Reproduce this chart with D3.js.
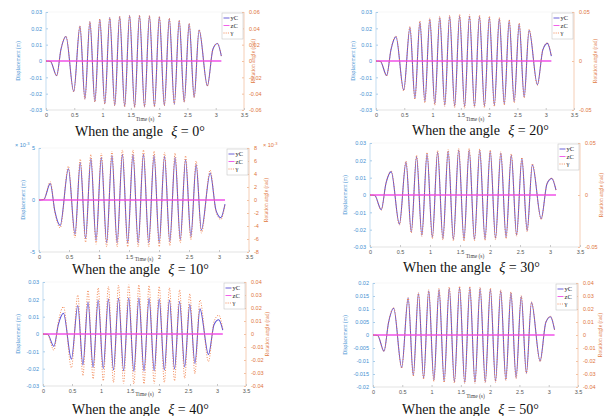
<!DOCTYPE html>
<html><head><meta charset="utf-8">
<script src="https://cdn.jsdelivr.net/npm/d3@7"></script>
<style>body{margin:0;background:#fff}svg{display:block}</style>
</head><body><svg id="c" width="614" height="416"></svg>
<script>
// ---- data ----
const time = [0, 0.08, 0.188, 0.265, 0.353, 0.49, 0.6, 0.688, 0.776, 0.864, 0.951, 1.039, 1.127, 1.215, 1.302, 1.39, 1.478, 1.566, 1.653, 1.741, 1.829, 1.917, 2.004, 2.092, 2.18, 2.268, 2.355, 2.443, 2.531, 2.619, 2.706, 2.853, 2.95, 3.03, 3.1];

const yC_0  = [0, -0.0003, -0.009, 0.0072, 0.015, -0.0187, 0.0213, -0.0232, 0.024, -0.0249, 0.0256, -0.0262, 0.0266, -0.0272, 0.0272, -0.0278, 0.0278, -0.0282, 0.0278, -0.028, 0.0276, -0.0278, 0.027, -0.0272, 0.026, -0.0264, 0.0248, -0.025, 0.0228, -0.0222, 0.019, -0.0152, 0.0072, 0.0107, 0.003];
const gamma_0 = [0, -0.0006, -0.0182, 0.0145, 0.0303, -0.0378, 0.043, -0.0469, 0.0485, -0.0503, 0.0517, -0.0529, 0.0537, -0.0549, 0.0549, -0.0562, 0.0562, -0.057, 0.0562, -0.0566, 0.0558, -0.0562, 0.0545, -0.0549, 0.0525, -0.0533, 0.0501, -0.0505, 0.0461, -0.0448, 0.0384, -0.0307, 0.0145, 0.0216, 0.0061];

const yC_20 = [0, -0.0003, -0.0089, 0.007, 0.0149, -0.0178, 0.0205, -0.0228, 0.0238, -0.0248, 0.0256, -0.0262, 0.0266, -0.027, 0.0272, -0.0276, 0.0276, -0.028, 0.0276, -0.0278, 0.0272, -0.0276, 0.0266, -0.027, 0.0258, -0.0262, 0.0246, -0.0248, 0.0226, -0.022, 0.0188, -0.0145, 0.007, 0.0108, 0.003];
const gamma_20 = [0, -0.0005, -0.0153, 0.012, 0.0256, -0.0306, 0.0353, -0.0392, 0.0409, -0.0427, 0.044, -0.0451, 0.0458, -0.0464, 0.0468, -0.0475, 0.0475, -0.0482, 0.0475, -0.0478, 0.0468, -0.0475, 0.0458, -0.0464, 0.0444, -0.0451, 0.0423, -0.0427, 0.0389, -0.0378, 0.0323, -0.0249, 0.012, 0.0186, 0.0052];

const yC_10 = [0, 0.00005, 0.00158, -0.0011, -0.00245, 0.003, -0.0033, 0.0036, -0.0037, 0.004, -0.0039, 0.0041, -0.0041, 0.0043, -0.0041, 0.0044, -0.0041, 0.0044, -0.0041, 0.0044, -0.0041, 0.0043, -0.0041, 0.0042, -0.004, 0.0041, -0.0038, 0.0039, -0.0035, 0.0034, -0.0029, 0.0026, -0.001, -0.0017, -0.0004];
const gamma_10 = [0, 0.0001, 0.0028, -0.0019, -0.0043, 0.0052, -0.0058, 0.0063, -0.0065, 0.007, -0.0068, 0.0072, -0.0072, 0.0075, -0.0072, 0.0077, -0.0072, 0.0077, -0.0072, 0.0077, -0.0072, 0.0075, -0.0072, 0.0073, -0.007, 0.0072, -0.0066, 0.0068, -0.0061, 0.006, -0.0051, 0.0046, -0.0018, -0.003, -0.0007];

const yC_30 = [0, -0.0003, -0.0085, 0.0065, 0.0135, -0.0168, 0.019, -0.0213, 0.0222, -0.0232, 0.0238, -0.0244, 0.0248, -0.0252, 0.0254, -0.0256, 0.026, -0.0258, 0.026, -0.0256, 0.0258, -0.0254, 0.0252, -0.025, 0.0242, -0.0244, 0.023, -0.023, 0.021, -0.0205, 0.0175, -0.0137, 0.0065, 0.0095, 0.0028];
const gamma_30 = [0, -0.0005, -0.0146, 0.0112, 0.0232, -0.0289, 0.0327, -0.0366, 0.0382, -0.0399, 0.0409, -0.042, 0.0427, -0.0433, 0.0437, -0.044, 0.0447, -0.0444, 0.0447, -0.044, 0.0444, -0.0437, 0.0433, -0.043, 0.0416, -0.042, 0.0396, -0.0396, 0.0361, -0.0353, 0.0301, -0.0236, 0.0112, 0.0163, 0.0048];

const yC_40 = [0, -0.0002, -0.0071, 0.0055, 0.012, -0.0145, 0.0165, -0.0178, 0.0185, -0.0192, 0.0196, -0.02, 0.0202, -0.0208, 0.0206, -0.0212, 0.0208, -0.0215, 0.0208, -0.0214, 0.0206, -0.0212, 0.0202, -0.0208, 0.0196, -0.0202, 0.0188, -0.019, 0.0172, -0.017, 0.0145, -0.0118, 0.0055, 0.0082, 0.0022];
const gamma_40 = [0, -0.0004, -0.0125, 0.0095, 0.021, -0.026, 0.03, -0.032, 0.0335, -0.0345, 0.0355, -0.036, 0.0365, -0.0372, 0.0375, -0.038, 0.0378, -0.0385, 0.0378, -0.0383, 0.0372, -0.038, 0.0365, -0.0372, 0.0355, -0.036, 0.034, -0.034, 0.031, -0.0305, 0.0262, -0.0212, 0.0098, 0.0145, 0.004];

const yC_50 = [0, -0.0002, -0.0062, 0.0048, 0.0103, -0.0125, 0.0142, -0.0155, 0.016, -0.0166, 0.017, -0.0174, 0.0175, -0.0178, 0.018, -0.018, 0.0183, -0.0183, 0.0182, -0.0182, 0.018, -0.018, 0.0176, -0.0178, 0.017, -0.0172, 0.0162, -0.0164, 0.0148, -0.0146, 0.0125, -0.01, 0.0048, 0.007, 0.002];
const gamma_50 = [0, -0.0004, -0.0127, 0.0098, 0.0211, -0.0256, 0.0291, -0.0318, 0.0328, -0.034, 0.0348, -0.0357, 0.0359, -0.0365, 0.0369, -0.0369, 0.0375, -0.0375, 0.0373, -0.0373, 0.0369, -0.0369, 0.0361, -0.0365, 0.0348, -0.0353, 0.0332, -0.0336, 0.0303, -0.0299, 0.0256, -0.0205, 0.0098, 0.0144, 0.0041];

const zCTime = [0, 3.1];
const zCValue = [0, 0];

const xTicks = [0, 0.5, 1, 1.5, 2, 2.5, 3, 3.5];
const dispTicks3 = [-0.03, -0.02, -0.01, 0, 0.01, 0.02, 0.03];
const dispTicks10 = [-0.005, 0, 0.005];
const dispTicks50 = [-0.02, -0.015, -0.01, -0.005, 0, 0.005, 0.01, 0.015, 0.02];
const rotTicks0 = [-0.06, -0.04, -0.02, 0, 0.02, 0.04, 0.06];
const rotTicks20 = [-0.05, 0, 0.05];
const rotTicks10 = [-0.008, -0.006, -0.004, -0.002, 0, 0.002, 0.004, 0.006, 0.008];
const rotTicks40 = [-0.04, -0.03, -0.02, -0.01, 0, 0.01, 0.02, 0.03, 0.04];
const legendLabels = ["yC", "zC", "γ"];
const angleLabels = ["0", "20", "10", "30", "40", "50"];

// ---- layout / options ----
const panels = [
  {angle: angleLabels[0], yC: yC_0, gamma: gamma_0, ld: [-0.03, 0.03], lt: dispTicks3, rd: [-0.06, 0.06], rt: rotTicks0,
   L: 46, R: 244, T: 12, B: 110, ylx: 20, yrx: 255, tx: 75, ty: 136, tly: 121},
  {angle: angleLabels[1], yC: yC_20, gamma: gamma_20, ld: [-0.03, 0.03], lt: dispTicks3, rd: [-0.05, 0.05], rt: rotTicks20,
   L: 376, R: 574, T: 12, B: 110, ylx: 355, yrx: 597, tx: 412, ty: 135, tly: 121},
  {angle: angleLabels[2], yC: yC_10, gamma: gamma_10, ld: [-0.005, 0.005], lt: dispTicks10, rd: [-0.008, 0.008], rt: rotTicks10, exp: true,
   L: 39, R: 249, T: 148, B: 252, ylx: 25, yrx: 268, tx: 72, ty: 274, tly: 260.5},
  {angle: angleLabels[3], yC: yC_30, gamma: gamma_30, ld: [-0.03, 0.03], lt: dispTicks3, rd: [-0.05, 0.05], rt: rotTicks20,
   L: 370, R: 580, T: 143, B: 247, ylx: 347, yrx: 603, tx: 403, ty: 272, tly: 258},
  {angle: angleLabels[4], yC: yC_40, gamma: gamma_40, ld: [-0.03, 0.03], lt: dispTicks3, rd: [-0.04, 0.04], rt: rotTicks40,
   L: 43, R: 246, T: 282, B: 386, ylx: 20, yrx: 269, tx: 72, ty: 414, tly: 396},
  {angle: angleLabels[5], yC: yC_50, gamma: gamma_50, ld: [-0.02, 0.02], lt: dispTicks50, rd: [-0.04, 0.04], rt: rotTicks40,
   L: 373, R: 578, T: 283, B: 387, ylx: 347, yrx: 602, tx: 402, ty: 414, tly: 398}
];

const blue = "#3f8fd2", orange = "#e0743a";
const cY = "#5a4fd4", cZ = "#f050e8", cG = "#f07d45";
const svg = d3.select("#c");
svg.append("rect").attr("width", 614).attr("height", 416).attr("fill", "#fff");

function fmt(v) { return v === 0 ? "0" : String(+v.toFixed(4)); }
function fmtE(v) { return v === 0 ? "0" : String(Math.round(v * 1000)); }

panels.forEach(p => {
  const g = svg.append("g");
  const x = d3.scaleLinear().domain([0, 3.5]).range([p.L, p.R]);
  const yl = d3.scaleLinear().domain(p.ld).range([p.B, p.T]);
  const yr = d3.scaleLinear().domain(p.rd).range([p.B, p.T]);

  g.append("line").attr("x1", p.L).attr("x2", p.R).attr("y1", p.B).attr("y2", p.B).attr("stroke", "#d0d0d0").attr("stroke-width", 0.6);
  g.append("line").attr("x1", p.L).attr("x2", p.R).attr("y1", p.T).attr("y2", p.T).attr("stroke", "#ececec").attr("stroke-width", 0.5);
  g.append("line").attr("x1", p.L).attr("x2", p.L).attr("y1", p.T).attr("y2", p.B).attr("stroke", "#a9cdea").attr("stroke-width", 0.7);
  g.append("line").attr("x1", p.R).attr("x2", p.R).attr("y1", p.T).attr("y2", p.B).attr("stroke", "#f3c2a3").attr("stroke-width", 0.8);

  const lax = d3.axisLeft(yl).tickValues(p.lt).tickSize(-2).tickPadding(4).tickFormat(p.exp ? fmtE : fmt);
  const la = g.append("g").attr("transform", `translate(${p.L},0)`).call(lax);
  la.select(".domain").remove();
  la.selectAll("line").attr("stroke", "#a9cdea");
  la.selectAll("text").attr("fill", blue).style("font", "5.5px 'Liberation Sans', Arial, sans-serif");

  const rax = d3.axisRight(yr).tickValues(p.rt).tickSize(-2).tickPadding(5).tickFormat(p.exp ? fmtE : fmt);
  const ra = g.append("g").attr("transform", `translate(${p.R},0)`).call(rax);
  ra.select(".domain").remove();
  ra.selectAll("line").attr("stroke", "#f3c2a3");
  ra.selectAll("text").attr("fill", orange).style("font", "5.5px 'Liberation Sans', Arial, sans-serif");

  const xax = d3.axisBottom(x).tickValues(xTicks).tickSize(-2).tickPadding(3).tickFormat(d => String(d));
  const xa = g.append("g").attr("transform", `translate(0,${p.B})`).call(xax);
  xa.select(".domain").remove();
  xa.selectAll("line").attr("stroke", "#c8c8c8");
  xa.selectAll("text").attr("fill", "#555").style("font", "5.5px 'Liberation Sans', Arial, sans-serif");

  if (p.exp) {
    const e1 = g.append("text").attr("x", p.L - 24).attr("y", p.T - 1).attr("fill", blue).style("font", "5.5px 'Liberation Sans', sans-serif");
    e1.append("tspan").text("× 10");
    e1.append("tspan").attr("dy", -2).style("font-size", "4px").text("-3");
    const e2 = g.append("text").attr("x", p.R + 14).attr("y", p.T - 1).attr("fill", orange).style("font", "5.5px 'Liberation Sans', sans-serif");
    e2.append("tspan").text("× 10");
    e2.append("tspan").attr("dy", -2).style("font-size", "4px").text("-3");
  }

  g.append("text").attr("transform", `translate(${p.ylx},${(p.T + p.B) / 2}) rotate(-90)`).attr("text-anchor", "middle")
    .attr("fill", blue).style("font", "5.5px 'Liberation Serif', serif").text("Displacement (m)");
  g.append("text").attr("transform", `translate(${p.yrx},${(p.T + p.B) / 2}) rotate(-90)`).attr("text-anchor", "middle")
    .attr("fill", orange).style("font", "5.5px 'Liberation Serif', serif").text("Rotation angle (rad)");
  g.append("text").attr("x", (p.L + p.R) / 2).attr("y", p.tly).attr("text-anchor", "middle")
    .attr("fill", "#444").style("font", "5.5px 'Liberation Serif', serif").text("Time (s)");

  const rows = time.map((t, i) => ({t, y: p.yC[i], g: p.gamma[i]}));
  const zrows = zCTime.map((t, i) => ({t, z: zCValue[i]}));
  const clip = "clip" + p.angle;
  g.append("clipPath").attr("id", clip).append("rect").attr("x", p.L).attr("y", p.T - 1).attr("width", p.R - p.L).attr("height", p.B - p.T + 2);
  const pg = g.append("g").attr("clip-path", `url(#${clip})`);
  pg.append("path").datum(rows).attr("fill", "none").attr("stroke", cY).attr("stroke-width", 1.05)
    .attr("d", d3.line().x(d => x(d.t)).y(d => yl(d.y)).curve(d3.curveMonotoneX));
  pg.append("path").datum(zrows).attr("fill", "none").attr("stroke", cZ).attr("stroke-width", 1.5)
    .attr("d", d3.line().x(d => x(d.t)).y(d => yl(d.z)));
  pg.append("path").datum(rows).attr("fill", "none").attr("stroke", cG).attr("stroke-width", 0.9).attr("stroke-dasharray", "1,1.6")
    .attr("d", d3.line().x(d => x(d.t)).y(d => yr(d.g)).curve(d3.curveMonotoneX));

  const lx = p.R - 22, ly = p.T + 1;
  const lg = g.append("g");
  lg.append("rect").attr("x", lx).attr("y", ly).attr("width", 21).attr("height", 26).attr("fill", "#fff").attr("stroke", "#bdbdbd").attr("stroke-width", 0.5);
  const lstyle = [{c: cY, d: null}, {c: cZ, d: null}, {c: cG, d: "1,1.2"}];
  legendLabels.forEach((lab, i) => {
    const yy = ly + 5 + i * 7.5;
    lg.append("line").attr("x1", lx + 1.5).attr("x2", lx + 7.5).attr("y1", yy).attr("y2", yy)
      .attr("stroke", lstyle[i].c).attr("stroke-width", 0.9).attr("stroke-dasharray", lstyle[i].d);
    lg.append("text").attr("x", lx + 8.5).attr("y", yy + 2.2).attr("fill", "#222")
      .style("font", "6.5px 'Liberation Serif', serif").text(lab);
  });

  const tt = g.append("text").attr("x", p.tx).attr("y", p.ty).attr("fill", "#111").style("font", "14px 'Liberation Serif', 'Times New Roman', serif");
  tt.append("tspan").text("When the angle ");
  tt.append("tspan").attr("dx", 5).style("font-style", "italic").text("ξ");
  tt.append("tspan").text(" = " + p.angle + "°");
});
</script>
</body></html>
